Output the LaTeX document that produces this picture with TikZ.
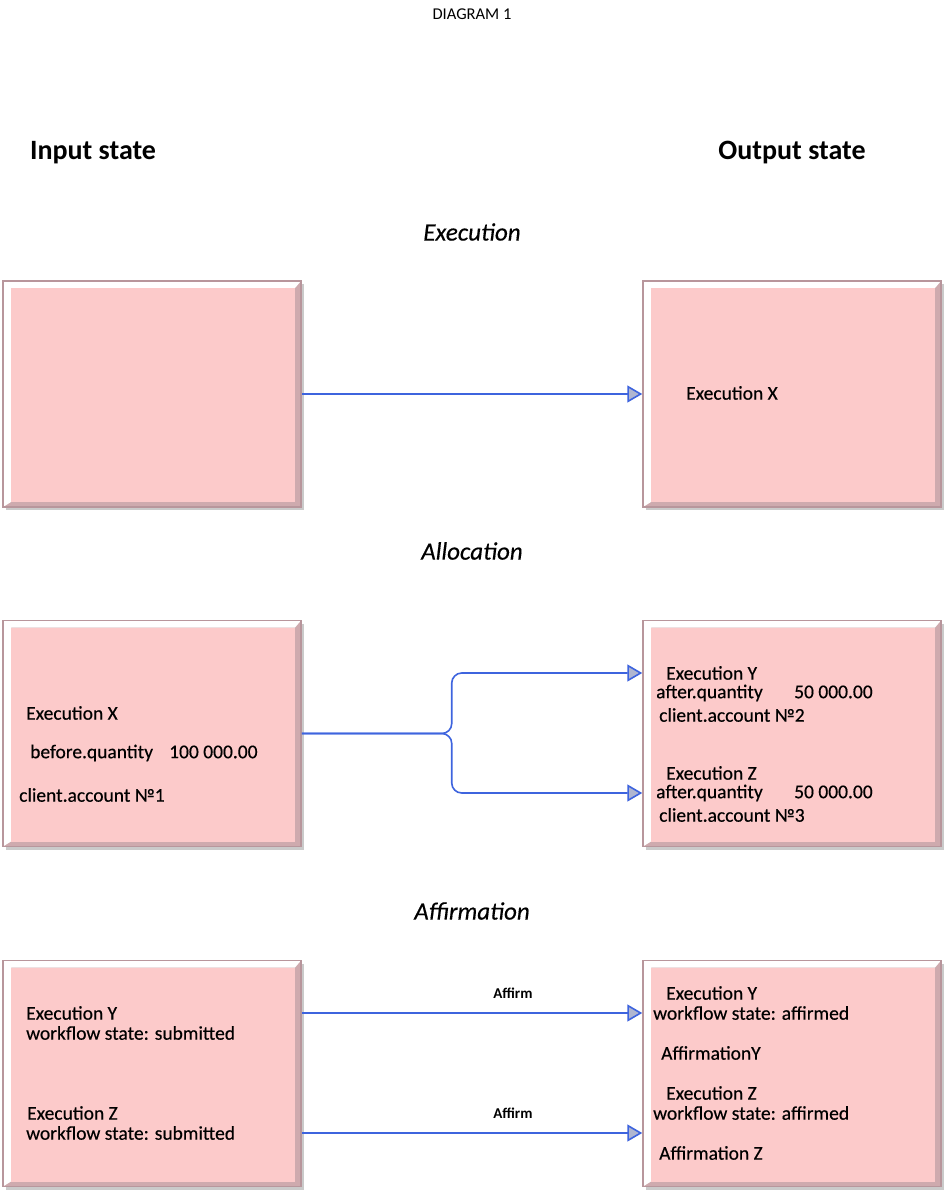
\documentclass[tikz,border=0pt]{standalone}
\usepackage{fontspec}
\setmainfont{Carlito}
\newfontfamily\boxfont{Carlito}[FakeBold=0.35]
\usetikzlibrary{arrows.meta,calc,positioning,shadows}

\definecolor{boxpink}{RGB}{252,202,202}
\definecolor{boxline}{RGB}{184,150,156}
\definecolor{boxbevel}{RGB}{206,170,174}
\definecolor{linkblue}{RGB}{62,100,222}
\definecolor{tipfill}{RGB}{176,182,208}

\begin{document}
\begin{tikzpicture}[
    x=1pt, y=-1pt,
    statebox/.style={rectangle, draw=boxline, line width=1.5pt, fill=white, inner sep=0pt,
                minimum width=298pt, minimum height=226pt,
                drop shadow={shadow xshift=3pt, shadow yshift=-3pt, opacity=0.35, fill=black!60},
                path picture={
                  \fill[boxbevel] (path picture bounding box.south west) rectangle (path picture bounding box.north east);
                  \fill[white] (path picture bounding box.south west) -- (path picture bounding box.north west)
                    -- (path picture bounding box.north east) -- ($(path picture bounding box.north east)+(-6,7)$)
                    -| ($(path picture bounding box.south west)+(8,-5)$) -- cycle;
                  \fill[boxpink] ($(path picture bounding box.south west)+(8,-5)$) rectangle ($(path picture bounding box.north east)+(-6,7)$);
                }},
    boxtext/.style={anchor=west, inner sep=0pt, font=\boxfont\fontsize{19.5}{22}\selectfont},
    statehead/.style={font=\bfseries\fontsize{28}{32}\selectfont},
    stagehead/.style={font=\boxfont\itshape\fontsize{25}{28}\selectfont},
    diagtitle/.style={font=\fontsize{16.5}{18}\selectfont},
    linklabel/.style={font=\bfseries\fontsize{15}{17}\selectfont, inner sep=0pt},
    link/.style={draw=linkblue, line width=1.6pt,
                -{Triangle[length=15pt, width=17pt, fill=tipfill, line width=1.6pt]}}
]
    \useasboundingbox (0,0) rectangle (951,1197);

    \node[diagtitle] (title) at (472,14) {DIAGRAM 1};
    \node[statehead] (inhead) at (93,153) {Input state};
    \node[statehead] (outhead) at (792,153) {Output state};

    % execution
    \node[stagehead] (exechead) at (472,232) {Execution};
    \node[statebox] (execin) at (152,394) {};
    \node[statebox] (execout) at (792,394) {};
    \node[boxtext] (execx) at (686,393) {Execution X};

    \draw[link] (execin) -- (execout);

    % allocation
    \node[stagehead] (allochead) at (472,551) {Allocation};
    \node[statebox] (allocin) at (152,733.5) {};
    \node[statebox] (allocout) at (792,733.5) {};

    \node[boxtext] (allocx) at (26,713) {Execution X};
    \node[boxtext] (allocqty) at (30,753) {\makebox[139pt][l]{before.quantity}100 000.00};
    \node[boxtext] (allocacc) at (19,795) {client.account №1};

    \node[boxtext] (ally) at (666,673) {Execution Y};
    \node[boxtext] (allyqty) at (656,693) {\makebox[138pt][l]{after.quantity}50 000.00};
    \node[boxtext] (allyacc) at (659,715) {client.account №2};
    \node[boxtext] (allz) at (666,773) {Execution Z};
    \node[boxtext] (allzqty) at (656,793) {\makebox[138pt][l]{after.quantity}50 000.00};
    \node[boxtext] (allzacc) at (659,815) {client.account №3};

    \coordinate (split) at ($(allocin.east)+(150,0)$);
    \draw[link, rounded corners=10pt] (allocin.east) -- (split) |- (allocout.west |- ally);
    \draw[link, rounded corners=10pt] (allocin.east) -- (split) |- (allocout.west |- allzqty);

    % affirmation
    \node[stagehead] (affhead) at (472,911) {Affirmation};
    \node[statebox] (affin) at (152,1073.5) {};
    \node[statebox] (affout) at (792,1073.5) {};

    \node[boxtext] (affy) at (26,1013) {Execution Y};
    \node[boxtext] (affyst) at (26,1033) {workflow state: submitted};
    \node[boxtext] (affz) at (27,1113) {Execution Z};
    \node[boxtext] (affzst) at (26,1133) {workflow state: submitted};

    \node[boxtext] (resy) at (666,993) {Execution Y};
    \node[boxtext] (resyst) at (653,1013) {workflow state: affirmed};
    \node[boxtext] (resyaff) at (661,1053) {AffirmationY};
    \node[boxtext] (resz) at (666,1093) {Execution Z};
    \node[boxtext] (reszst) at (653,1113) {workflow state: affirmed};
    \node[boxtext] (reszaff) at (659,1153) {Affirmation Z};

    \draw[link] (affin.east |- affy) -- node[pos=0.62, above=14pt, linklabel] {Affirm} (affout.west |- affy);
    \draw[link] (affin.east |- affzst) -- node[pos=0.62, above=14pt, linklabel] {Affirm} (affout.west |- affzst);
\end{tikzpicture}
\end{document}
